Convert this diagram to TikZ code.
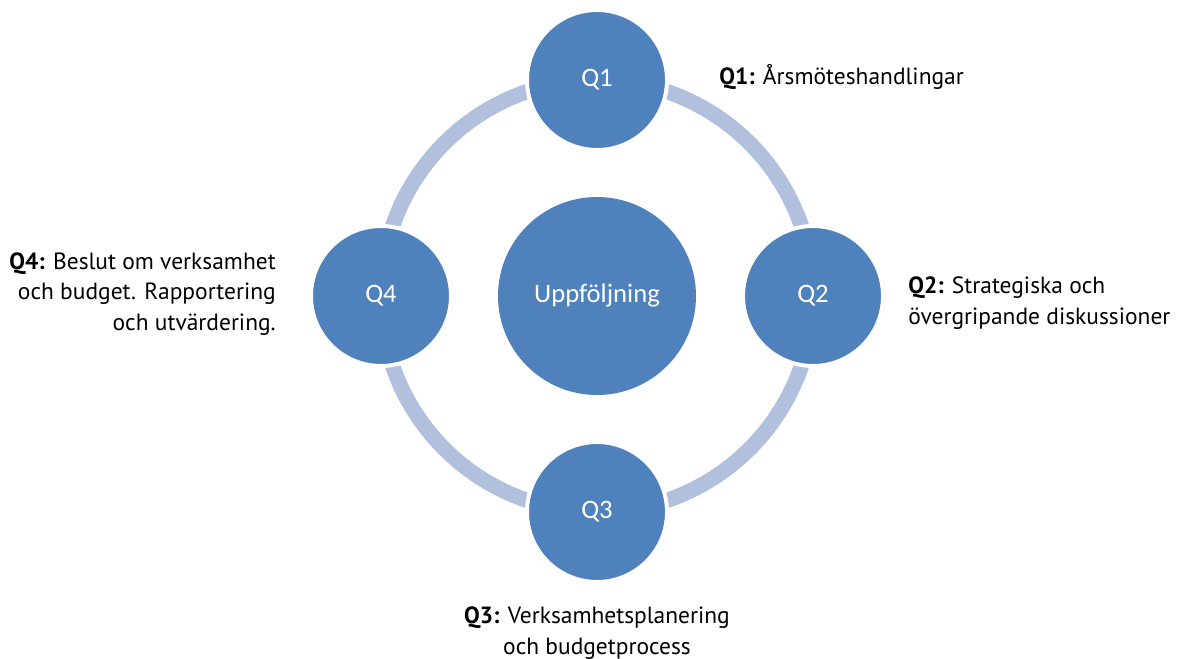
\documentclass[tikz,border=0pt]{standalone}
\usepackage{fontspec}
\setmainfont{PT Sans}
\newfontfamily\calibrifont{Carlito}
\definecolor{qblue}{HTML}{4F81BD}
\definecolor{ringc}{HTML}{B1C1DD}
\begin{document}
\begin{tikzpicture}[x=0.75pt,y=-0.75pt,
  qcirc/.style={circle,fill=qblue,draw=white,line width=3pt,minimum size=105pt,inner sep=0pt,
    text=white,font=\calibrifont\fontsize{20}{24}\selectfont},
  hub/.style={circle,fill=qblue,minimum size=148.5pt,inner sep=0pt,
    text=white,font=\calibrifont\fontsize{20}{24}\selectfont},
  ring/.style={draw=ringc,line width=11.5pt},
  lbl/.style={inner sep=0pt,text=black,font=\fontsize{17.6}{22.8}\selectfont}]
\useasboundingbox (0,0) rectangle (1177,659);
\node[hub] (hub) at (597,296) {Uppföljning};
\draw[ring] (hub.center) circle[radius=162pt];
\node[qcirc] (q1) at (597,80) {Q1};
\node[qcirc] (q2) at (813,296) {Q2};
\node[qcirc] (q3) at (597,512) {Q3};
\node[qcirc] (q4) at (381,296) {Q4};
\node[lbl,anchor=west] (l1) at (719,77) {\textbf{Q1:} Årsmöteshandlingar};
\node[lbl,anchor=west,align=left] (l2) at (908,303) {\textbf{Q2:} Strategiska och\\övergripande diskussioner};
\node[lbl,anchor=east,align=right] (l4) at (276,294) {\textbf{Q4:} Beslut om verksamhet\\och budget. Rapportering\\och utvärdering.};
\node[lbl,align=center] (l3) at (597,633) {\textbf{Q3:} Verksamhetsplanering\\och budgetprocess};
\end{tikzpicture}
\end{document}
